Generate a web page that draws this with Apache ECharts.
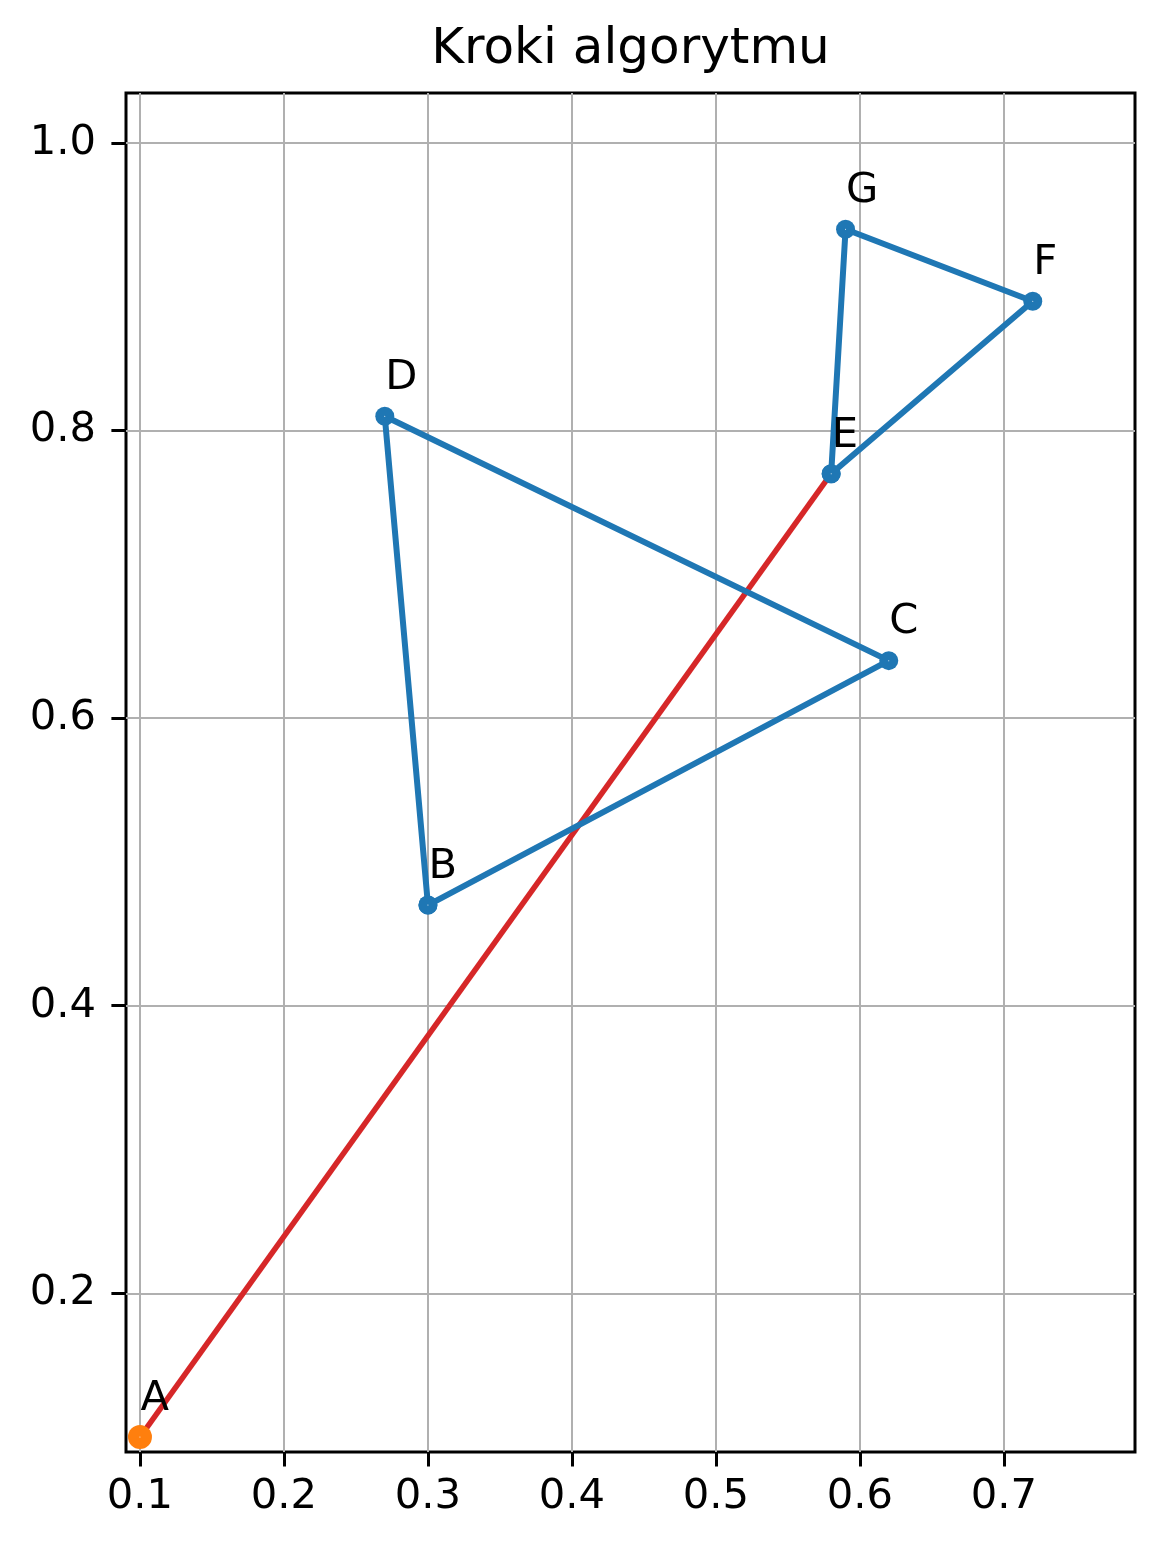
<!DOCTYPE html>
<html>
<head>
<meta charset="utf-8">
<script src="https://cdn.jsdelivr.net/npm/echarts@6/dist/echarts.min.js"></script>
<style>
html,body{margin:0;padding:0;background:#fff;}
#chart{width:1166px;height:1553px;}
</style>
</head>
<body>
<div id="chart"></div>
<script>
// ---- data ----
const titleText = 'Kroki algorytmu';
const pointNames = ['A', 'B', 'C', 'D', 'E', 'F', 'G'];
const pointX = [0.10, 0.30, 0.62, 0.27, 0.58, 0.72, 0.59];
const pointY = [0.10, 0.47, 0.64, 0.81, 0.77, 0.89, 0.94];
const loopOne = ['B', 'C', 'D', 'B'];
const loopTwo = ['E', 'F', 'G', 'E'];
const redPath = ['A', 'E'];
const startPoint = ['A'];
const xTicks = [0.1, 0.2, 0.3, 0.4, 0.5, 0.6, 0.7];
const yTicks = [0.2, 0.4, 0.6, 0.8, 1.0];

// ---- helpers ----
function coords(names) {
  return names.map(n => {
    const i = pointNames.indexOf(n);
    return [pointX[i], pointY[i]];
  });
}
const FONT = "'DejaVu Sans', sans-serif";
const chart = echarts.init(document.getElementById('chart'), null, {renderer: 'canvas'});

const option = {
  backgroundColor: '#ffffff',
  animation: false,
  title: {
    text: titleText,
    left: 630.5,
    top: 25,
    padding: 0,
    textAlign: 'center',
    textStyle: {fontFamily: FONT, fontSize: 50, fontWeight: 'normal', color: '#000'}
  },
  grid: {
    left: 126, right: 31, top: 93, bottom: 101,
    show: true, borderColor: '#000', borderWidth: 3, backgroundColor: 'transparent',
    containLabel: false
  },
  xAxis: {
    type: 'value',
    min: 0.0903, max: 0.7910,
    axisLine: {show: false},
    axisTick: {show: true, customValues: xTicks, length: 14.6, inside: false,
      lineStyle: {color: '#000', width: 3}},
    axisLabel: {show: true, customValues: xTicks, margin: 24,
      fontFamily: FONT, fontSize: 41.7, color: '#000',
      formatter: v => v.toFixed(1)},
    splitLine: {show: true, lineStyle: {color: '#b0b0b0', width: 2}}
  },
  yAxis: {
    type: 'value',
    min: 0.0896, max: 1.0348,
    axisLine: {show: false},
    axisTick: {show: true, customValues: yTicks, length: 14.6, inside: false,
      lineStyle: {color: '#000', width: 3}},
    axisLabel: {show: true, customValues: yTicks, margin: 30,
      fontFamily: FONT, fontSize: 41.7, color: '#000',
      formatter: v => v.toFixed(1)},
    splitLine: {show: true, lineStyle: {color: '#b0b0b0', width: 2}}
  },
  series: [
    {
      type: 'line', name: 'path', data: coords(redPath), z: 2,
      showSymbol: false, symbol: 'none',
      lineStyle: {color: '#d62728', width: 5.5}, silent: true
    },
    {
      type: 'line', name: 'loop1', data: coords(loopOne), z: 3,
      symbol: 'circle', symbolSize: 19, showAllSymbol: true,
      itemStyle: {color: '#1f77b4', opacity: 1, borderWidth: 0, borderColor: '#1f77b4'},
      lineStyle: {color: '#1f77b4', width: 6}, silent: true
    },
    {
      type: 'line', name: 'loop2', data: coords(loopTwo), z: 3,
      symbol: 'circle', symbolSize: 19, showAllSymbol: true,
      itemStyle: {color: '#1f77b4', opacity: 1, borderWidth: 0, borderColor: '#1f77b4'},
      lineStyle: {color: '#1f77b4', width: 6}, silent: true
    },
    {
      type: 'scatter', name: 'start', data: coords(startPoint), z: 4,
      symbol: 'circle', symbolSize: 24,
      itemStyle: {color: '#ff7f0e', opacity: 1}, silent: true
    },
    {
      type: 'scatter', name: 'labels', z: 5,
      data: pointNames.map((n, i) => ({name: n, value: [pointX[i], pointY[i]]})),
      symbolSize: 1, itemStyle: {color: '#ffffff', opacity: 1, borderWidth: 0}, silent: true,
      label: {
        show: true, formatter: p => p.name,
        position: [1, -37.5], align: 'left', verticalAlign: 'middle',
        fontFamily: FONT, fontSize: 41.7, color: '#000', opacity: 1
      }
    }
  ]
};
chart.setOption(option);
</script>
</body>
</html>
